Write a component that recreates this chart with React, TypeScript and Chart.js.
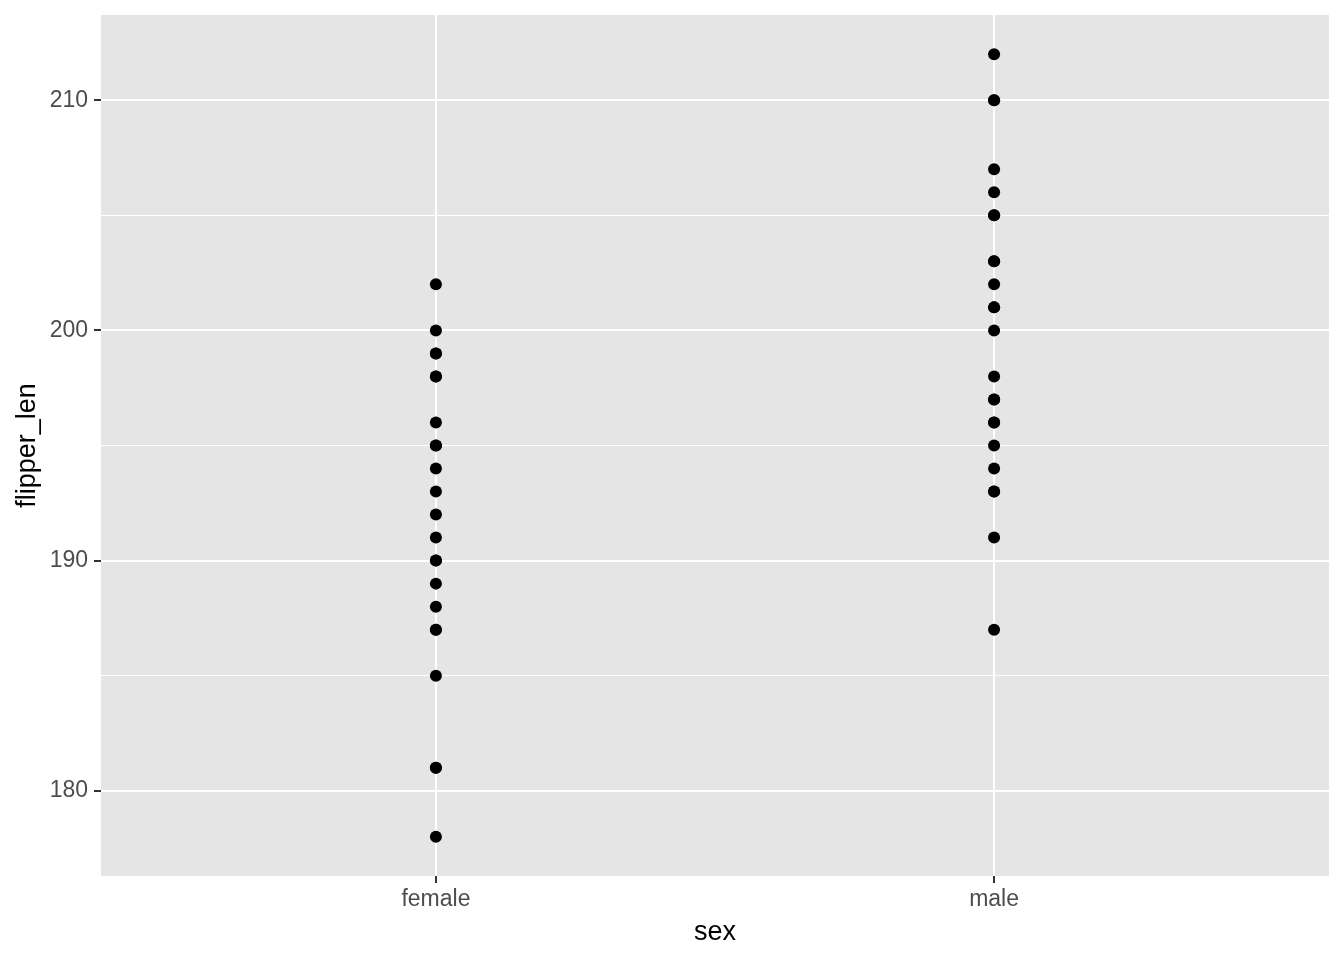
import React, { useEffect, useRef } from "react";
import { Chart, registerables } from "chart.js";

Chart.register(...registerables);

const categories = ["female", "male"];
const femaleFlipper = [202, 200, 199, 199, 198, 198, 196, 195, 195, 194, 193, 192, 191, 190, 190, 189, 188, 187, 187, 185, 181, 181, 178];
const maleFlipper = [212, 210, 210, 207, 206, 205, 205, 203, 203, 202, 201, 201, 200, 198, 197, 197, 196, 196, 195, 194, 193, 193, 191, 187];
const yTicks = [180, 185, 190, 195, 200, 205, 210];
const yMin = 176.3;
const yMax = 213.7;

export default function App() {
  const ref = useRef<HTMLCanvasElement>(null);
  useEffect(() => {
    if (!ref.current) return;
    const series = [femaleFlipper, maleFlipper];
    const data = series.flatMap((vals, i) => vals.map((v) => ({ x: i + 1, y: v })));
    const panelBg = {
      id: "panelBg",
      beforeDraw(chart: any) {
        const { ctx, chartArea } = chart;
        ctx.save();
        ctx.fillStyle = "#E5E5E5";
        ctx.fillRect(chartArea.left, chartArea.top, chartArea.right - chartArea.left, chartArea.bottom - chartArea.top);
        ctx.restore();
      },
    };
    const chart = new Chart(ref.current, {
      type: "scatter",
      data: {
        datasets: [
          {
            data,
            backgroundColor: "#000000",
            borderColor: "#000000",
            borderWidth: 0,
            pointRadius: 6,
            pointHoverRadius: 6,
          },
        ],
      },
      plugins: [panelBg],
      options: {
        responsive: false,
        animation: false,
        layout: { padding: { left: 0, right: 15, top: 15, bottom: 0 } },
        plugins: { legend: { display: false }, tooltip: { enabled: false } },
        scales: {
          x: {
            type: "linear",
            min: 0.4,
            max: 2.6,
            afterBuildTicks: (scale: any) => {
              scale.ticks = categories.map((_, i) => ({ value: i + 1 }));
            },
            afterFit: (scale: any) => {
              scale.height = 84;
              scale.paddingLeft = 0;
              scale.paddingRight = 0;
            },
            border: { display: false },
            grid: {
              color: "#FFFFFF",
              lineWidth: 2,
              tickColor: "#333333",
              tickWidth: 2,
              tickLength: 7,
            },
            ticks: {
              color: "#4D4D4D",
              padding: 3,
              font: { family: "Liberation Sans, Arial, sans-serif", size: 23 },
              maxRotation: 0,
              callback: (v: any) => categories[Number(v) - 1] ?? "",
            },
            title: {
              display: true,
              text: "sex",
              color: "#000000",
              font: { family: "Liberation Sans, Arial, sans-serif", size: 27 },
              padding: { top: 0, bottom: 11 },
            },
          },
          y: {
            type: "linear",
            min: yMin,
            max: yMax,
            afterBuildTicks: (scale: any) => {
              scale.ticks = yTicks.map((v) => ({ value: v }));
            },
            afterFit: (scale: any) => {
              scale.width = 101;
              scale.paddingTop = 0;
              scale.paddingBottom = 0;
            },
            border: { display: false },
            grid: {
              color: "#FFFFFF",
              lineWidth: (ctx: any) => (ctx.tick && ctx.tick.value % 10 === 0 ? 2 : 1),
              tickColor: (ctx: any) => (ctx.tick && ctx.tick.value % 10 === 0 ? "#333333" : "rgba(0,0,0,0)"),
              tickWidth: 2,
              tickLength: 7,
            },
            ticks: {
              color: "#4D4D4D",
              padding: 6,
              font: { family: "Liberation Sans, Arial, sans-serif", size: 23 },
              callback: (v: any) => (Number(v) % 10 === 0 ? String(v) : ""),
            },
            title: {
              display: true,
              text: "flipper_len",
              color: "#000000",
              font: { family: "Liberation Sans, Arial, sans-serif", size: 27 },
              padding: { top: 11, bottom: 0 },
            },
          },
        },
      },
    });
    return () => chart.destroy();
  }, []);
  return (
    <div style={{ position: "absolute", left: 0, top: 0, width: 1344, height: 960, background: "#FFFFFF" }}>
      <canvas ref={ref} width={1344} height={960} style={{ display: "block" }} />
    </div>
  );
}
